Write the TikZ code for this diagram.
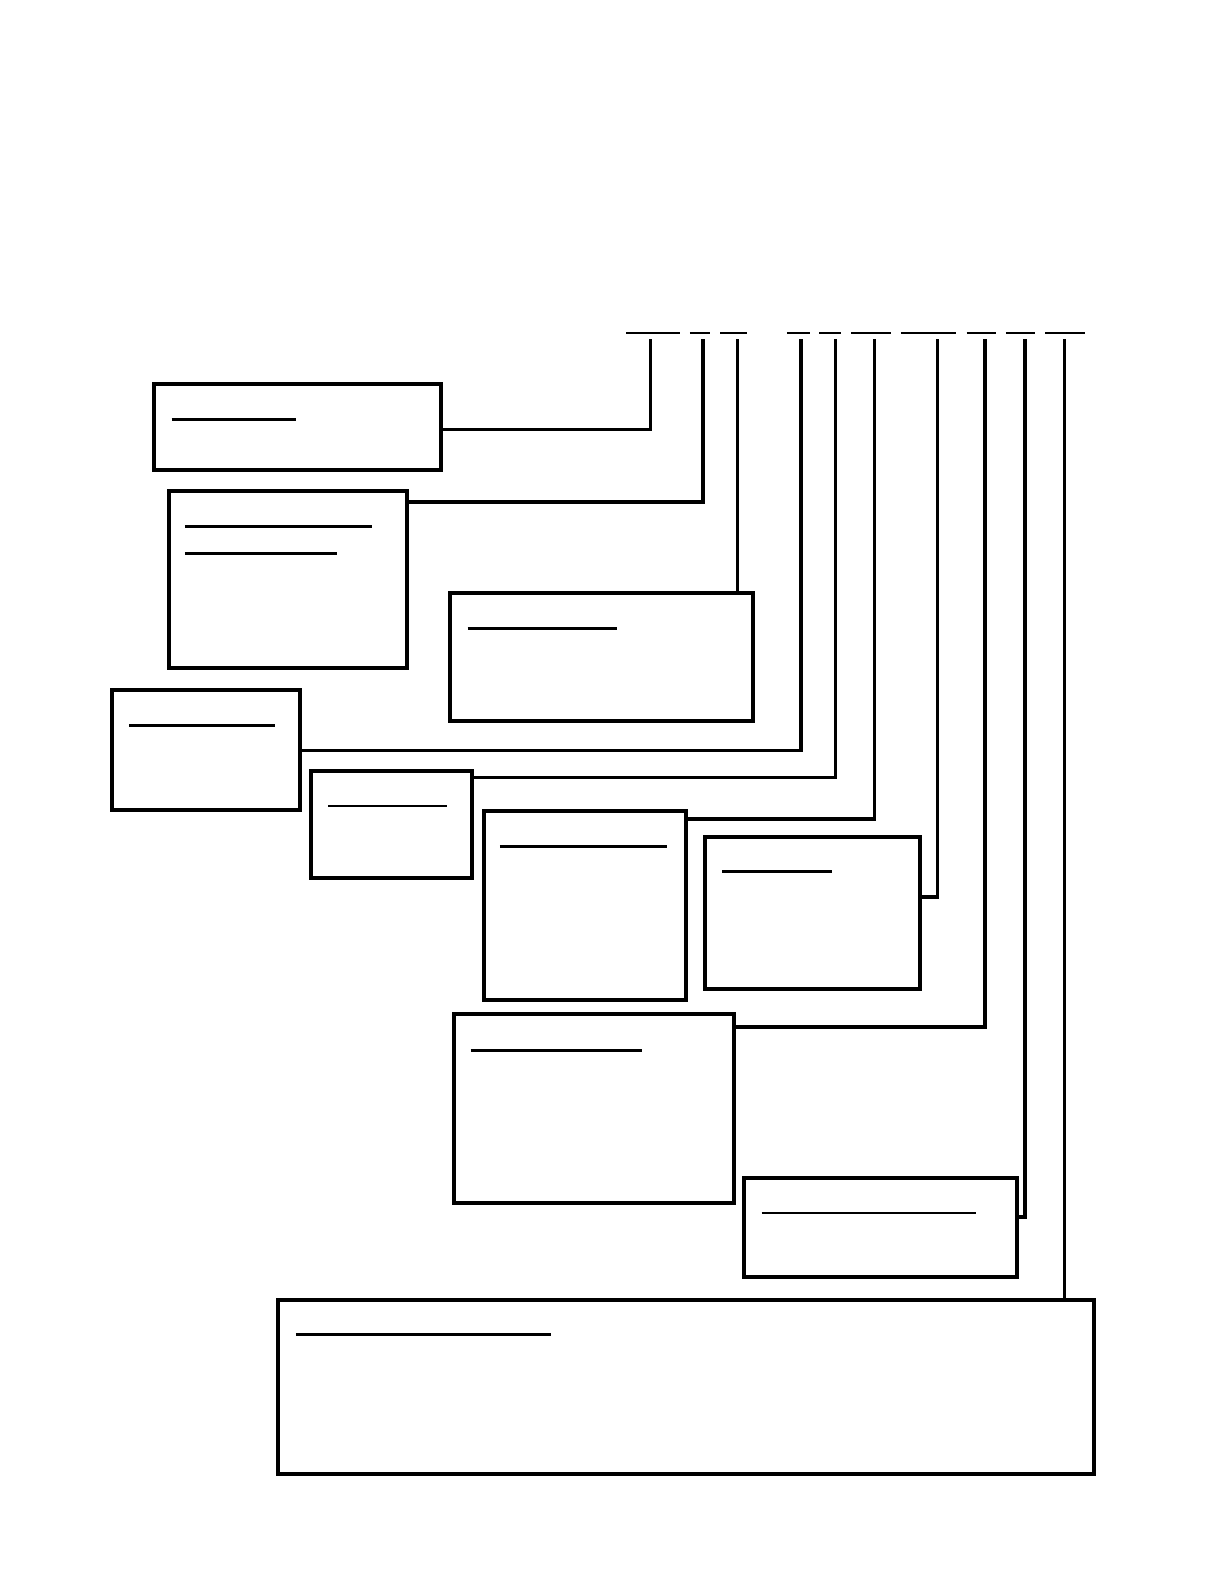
\documentclass[tikz,border=0pt]{standalone}
\usetikzlibrary{positioning}

\tikzset{
  box/.style={draw, line width=2pt, inner sep=0pt, outer sep=0pt, anchor=north west},
  wire/.style={line width=1.75pt},
  rule/.style={line width=1.35pt},
  tick/.style={line width=1pt}
}

\begin{document}
\begin{tikzpicture}[x=0.505pt, y=-0.505pt]
    \useasboundingbox (0,0) rectangle (1211.9,1568.3);
    % heading marks
    \foreach \a/\b in {620/673, 683/703, 713/740, 779/802, 811/833, 843/882, 892/947, 957/986, 996/1025, 1035/1074}
        \draw[tick] (\a,330) -- (\b,330);
    \foreach \n/\x in {1/644, 2/696, 3/730, 4/793, 5/827, 6/866, 7/928, 8/975, 9/1015, 10/1054}
        \coordinate (s\n) at (\x,336);

    % boxes
    \node[box, minimum width=143.9pt, minimum height=42.9pt] (b1) at (152,380) {};
    \node[box, minimum width=119.2pt, minimum height=88.4pt] (b2) at (167,486) {};
    \node[box, minimum width=151.5pt, minimum height=64.1pt] (b3) at (446,587) {};
    \node[box, minimum width=93.9pt, minimum height=60.1pt] (b4) at (111,683) {};
    \node[box, minimum width=80.3pt, minimum height=53.5pt] (b5) at (308,763) {};
    \node[box, minimum width=101pt, minimum height=94.4pt] (b6) at (479,803) {};
    \node[box, minimum width=107.6pt, minimum height=75.75pt] (b7) at (698,829) {};
    \node[box, minimum width=140.4pt, minimum height=94.4pt] (b8) at (449,1004) {};
    \node[box, minimum width=136.4pt, minimum height=49.5pt] (b9) at (737,1166) {};
    \node[box, minimum width=408pt, minimum height=86.9pt] (b10) at (275,1287) {};

    % blank lines in the boxes
    \draw[rule] ([shift={(18,35)}]b1.north west) -- ++(123,0);
    \draw[rule] ([shift={(16,35)}]b2.north west) -- ++(185,0);
    \draw[rule] ([shift={(16,62)}]b2.north west) -- ++(151,0);
    \draw[rule] ([shift={(17,35)}]b3.north west) -- ++(148,0);
    \draw[rule] ([shift={(17,35)}]b4.north west) -- ++(144,0);
    \draw[rule] ([shift={(17,35)}]b5.north west) -- ++(118,0);
    \draw[rule] ([shift={(16,35)}]b6.north west) -- ++(165,0);
    \draw[rule] ([shift={(17,34)}]b7.north west) -- ++(109,0);
    \draw[rule] ([shift={(17,36)}]b8.north west) -- ++(170,0);
    \draw[rule] ([shift={(17,35)}]b9.north west) -- ++(212,0);
    \draw[rule] ([shift={(18,34)}]b10.north west) -- ++(253,0);

    % connectors
    \draw[wire] ([shift={(0,45)}]b1.north east) -| (s1);
    \draw[wire] ([shift={(0,11)}]b2.north east) -| (s2);
    \draw[wire] (s3) -- (s3 |- b3.north);
    \draw[wire] ([shift={(0,60)}]b4.north east) -| (s4);
    \draw[wire] ([shift={(0,7)}]b5.north east) -| (s5);
    \draw[wire] ([shift={(0,8)}]b6.north east) -| (s6);
    \draw[wire] ([shift={(0,59)}]b7.north east) -| (s7);
    \draw[wire] ([shift={(0,13)}]b8.north east) -| (s8);
    \draw[wire] ([shift={(0,39)}]b9.north east) -| (s9);
    \draw[wire] (s10) -- (s10 |- b10.north);
\end{tikzpicture}
\end{document}
